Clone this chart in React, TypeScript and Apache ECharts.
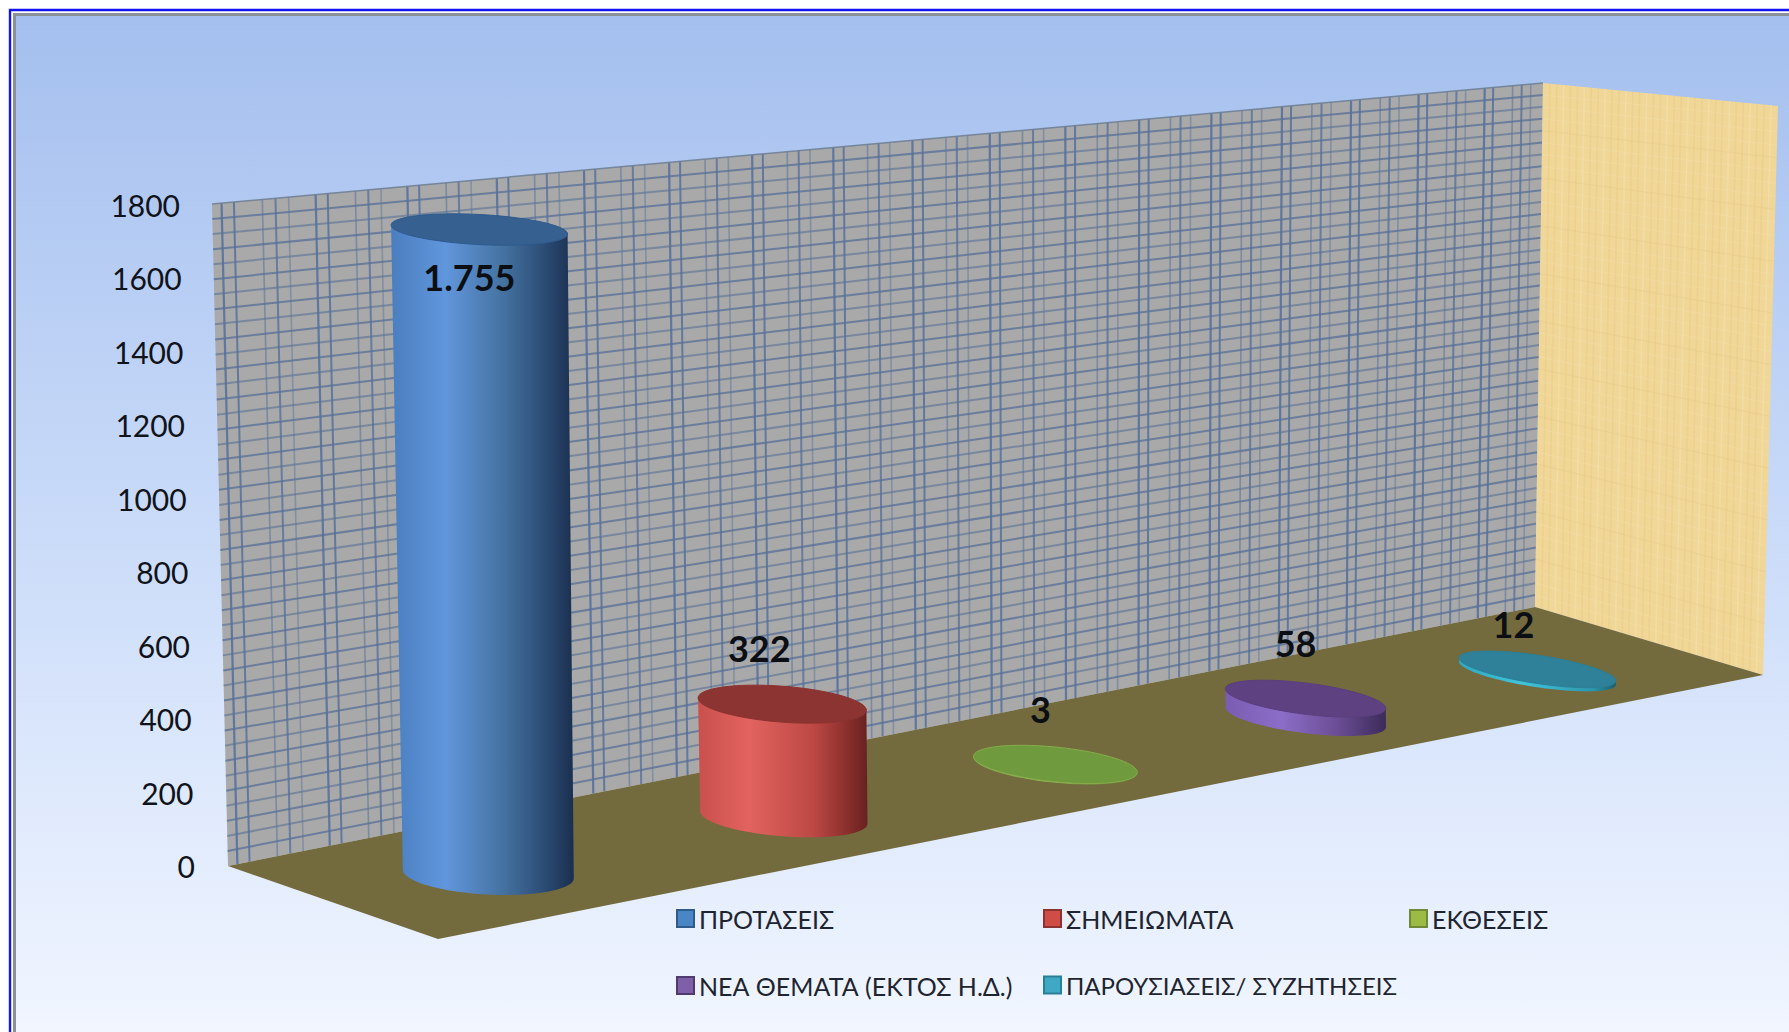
import React, { useEffect, useRef } from "react";
import * as echarts from "echarts";

const categories = ["ΠΡΟΤΑΣΕΙΣ", "ΣΗΜΕΙΩΜΑΤΑ", "ΕΚΘΕΣΕΙΣ", "ΝΕΑ ΘΕΜΑΤΑ (ΕΚΤΟΣ Η.Δ.)", "ΠΑΡΟΥΣΙΑΣΕΙΣ/ ΣΥΖΗΤΗΣΕΙΣ"];
const values = [1755, 322, 3, 58, 12];
const yTicks = [0, 200, 400, 600, 800, 1000, 1200, 1400, 1600, 1800];

const FONT = "Lato, 'Noto Sans', sans-serif";
const W = 1789, H = 1032;
const GRID = { left: 205, top: 205, width: 1300, height: 661 };
const GAMMA = 0.0441;

const palette = [
  { top: "#35608f", rim: "#2d5a8e", icon: "#4a86c5", border: "#2f5b8c", side: [[0, "#4a7ebf"], [0.3, "#6096dc"], [0.62, "#44719f"], [0.85, "#2a4a73"], [1, "#1b2f4e"]] },
  { top: "#8b3431", rim: "#8c3330", icon: "#cf4d47", border: "#8c3330", side: [[0, "#c9504d"], [0.3, "#e2635f"], [0.68, "#bd4844"], [0.88, "#8a2f2c"], [1, "#662220"]] },
  { top: "#6f9a3e", rim: "#86ac4c", icon: "#9bbb45", border: "#6f8a36", side: [[0, "#7fa647"], [0.4, "#93bb52"], [1, "#5f8030"]] },
  { top: "#5d4180", rim: "#5a3f7d", icon: "#7f5fa8", border: "#503a70", side: [[0, "#7a5db2"], [0.35, "#8c6dc8"], [0.7, "#6a4d94"], [1, "#3d2b5a"]] },
  { top: "#2f8199", rim: "#2c7f95", icon: "#3fa9c4", border: "#2a7f97", side: [[0, "#2fa8c2"], [0.4, "#40c4dc"], [0.85, "#2c97ad"], [1, "#1c5f70"]] },
];
const labelNudge = [
  { dx: -10, dy: 47 }, { dx: -23, dy: -56 }, { dx: -15, dy: -55 }, { dx: -10, dy: -56 }, { dx: -24, dy: -45 },
];

const gradient = (stops: number[][]) =>
  new echarts.graphic.LinearGradient(0, 0, 1, 0, stops.map((s) => ({ offset: s[0], color: s[1] as any })));

function ellipsePoint(cx: number, cy: number, rx: number, ry: number, tilt: number, th: number) {
  const ex = rx * Math.cos(th), ey = ry * Math.sin(th);
  return [cx + ex * Math.cos(tilt) - ey * Math.sin(tilt), cy + ex * Math.sin(tilt) + ey * Math.cos(tilt)];
}

function cylinder(colorIdx: number) {
  return (_params: any, api: any) => {
    const idx = api.value(0);
    const val = api.value(1);
    const o = api.coord([idx, 0]);
    const t = api.coord([idx, val]);
    const band = api.size([1, 0])[0];
    const i = (o[0] - GRID.left) / band - 0.5;
    const depth = 1 + GAMMA * i;
    const bx = (488.3 + 330.1 * i) / depth;
    const by = 874 - (bx - 488.3) * 0.1915;
    const h = (o[1] - t[1]) / depth;
    const f = h / 648;
    const rx = 85.6 / (1 + 0.02 * i);
    const tilt = ((3 + 1.4 * i) * Math.PI) / 180;
    const tx = bx - 9 * f, ty = by - h;
    const rxT = rx + 2.8 * f, ryB = 20.5 - 1.6 * i, ryT = ryB - 5.5 * f;
    const body: number[][] = [];
    const N = 48;
    for (let k = 0; k <= N; k++) body.push(ellipsePoint(bx, by, rx, ryB, tilt, Math.PI - (Math.PI * k) / N));
    body.push(ellipsePoint(tx, ty, rxT, ryT, tilt, 0));
    body.push(ellipsePoint(tx, ty, rxT, ryT, tilt, Math.PI));
    const topPts: number[][] = [];
    for (let k = 0; k < 72; k++) topPts.push(ellipsePoint(tx, ty, rxT, ryT, tilt, (2 * Math.PI * k) / 72));
    const c = palette[colorIdx];
    const n = labelNudge[colorIdx];
    const text = String(val).replace(/\B(?=(\d{3})+(?!\d))/g, ".");
    return {
      type: "group",
      children: [
        { type: "polygon", shape: { points: body }, style: { fill: gradient(c.side as any) } },
        { type: "polygon", shape: { points: topPts }, style: { fill: c.top, stroke: c.rim, lineWidth: 1 } },
        {
          type: "text",
          x: tx + n.dx,
          y: ty + n.dy,
          style: { text, fill: "#0b0f14", fontFamily: FONT, fontSize: 36, fontWeight: "bold", align: "center", verticalAlign: "middle" },
        },
      ],
    };
  };
}

const lerp = (a: number[], b: number[], u: number) => [a[0] + (b[0] - a[0]) * u, a[1] + (b[1] - a[1]) * u];

function wallElements() {
  const TL = [212, 204], TR = [1543, 83], BR = [1535, 607], BL = [228, 866];
  const FR = [1763, 675], FL = [438, 939], RT = [1778, 106];
  const els: any[] = [
    { type: "polygon", shape: { points: [TL, TR, BR, BL] }, style: { fill: "#a8a9a8" } },
  ];
  const line = (a: number[], b: number[], stroke: string, lineWidth: number, opacity: number) => ({
    type: "line",
    shape: { x1: a[0], y1: a[1], x2: b[0], y2: b[1] },
    style: { stroke, lineWidth, opacity },
  });
  const rows = 44;
  for (let r = 1; r < rows; r++) {
    const v = r / rows;
    els.push(line(lerp(TL, BL, v), lerp(TR, BR, v), "#5a7298", 2, r % 2 ? 0.8 : 0.62));
  }
  const periods = 17;
  const offs = [[0, 0.9, 2.2], [0.13, 0.85, 2], [0.43, 0.55, 1.6], [0.57, 0.8, 2], [0.71, 0.45, 1.6]];
  const k = 1 + GAMMA * 5;
  for (let p = 0; p < periods; p++) {
    for (const o of offs) {
      const s = (p + o[0] + 0.1) / periods;
      if (s >= 1) continue;
      const u = (s * k) / (1 + (k - 1) * s);
      if (u >= 1) continue;
      els.push(line(lerp(TL, TR, u), lerp(BL, BR, u), "#56719c", o[2], o[1]));
    }
  }
  els.push(line(TL, TR, "#6f8095", 1.5, 0.9));
  els.push({ type: "polygon", shape: { points: [TR, RT, FR, BR] }, style: { fill: "#f0d798" } });
  for (let q = 1; q < 34; q++) {
    const u = q / 34;
    els.push(line(lerp(TR, RT, u), lerp(BR, FR, u), q % 3 ? "#e6c47c" : "#f8e8bc", 1.5, 0.35));
  }
  for (let q = 1; q < 44; q++) {
    const u = q / 44;
    els.push(line(lerp(TR, BR, u), lerp(RT, FR, u), q % 4 ? "#f6e2ae" : "#e3c47f", 1.2, 0.3));
  }
  els.push({ type: "polygon", shape: { points: [BL, FL, FR, BR] }, style: { fill: "#736a3e" } });
  return els;
}

const frame = [
  { type: "rect", shape: { x: 0, y: 0, width: W, height: H }, style: { fill: "#ffffff" } },
  { type: "rect", shape: { x: 10, y: 10, width: W + 30, height: H + 30 }, style: { fill: "#ffffff", stroke: "#1414f0", lineWidth: 2.4 } },
  {
    type: "rect",
    shape: { x: 14.5, y: 14.5, width: W + 30, height: H + 30 },
    style: {
      fill: new echarts.graphic.LinearGradient(0, 0, 0, 1, [
        { offset: 0, color: "#a4bfee" },
        { offset: 0.5, color: "#cbdcf9" },
        { offset: 0.96, color: "#f1f6ff" },
        { offset: 1, color: "#f4f8ff" },
      ]),
      stroke: "#8b9198",
      lineWidth: 3,
    },
  },
];

const legendSlots = [
  { left: 676, top: 906 },
  { left: 1043, top: 906 },
  { left: 1409, top: 906 },
  { left: 676, top: 973 },
  { left: 1043, top: 973 },
];

export default function App() {
  const ref = useRef<HTMLDivElement>(null);
  useEffect(() => {
    const chart = echarts.init(ref.current!, null, { renderer: "svg" });
    const rich: any = {};
    yTicks.forEach((v) => {
      rich["t" + v] = { fontSize: 30, fontFamily: FONT, color: "#10131a", padding: [0, (15 * v) / 1800, 0, 0] };
    });
    chart.setOption({
      animation: false,
      backgroundColor: "#ffffff",
      graphic: { elements: [...frame, ...wallElements()] },
      grid: { ...GRID, containLabel: false },
      xAxis: { type: "category", data: categories, show: false },
      yAxis: {
        type: "value",
        min: 0,
        max: 1800,
        interval: 200,
        z: 5,
        axisLine: { show: false },
        axisTick: { show: false },
        splitLine: { show: false },
        axisLabel: { margin: 10, formatter: (v: number) => `{t${v}|${v}}`, rich },
      },
      legend: categories.map((name, i) => ({
        data: [name],
        left: legendSlots[i].left,
        top: legendSlots[i].top,
        padding: 0,
        icon: "rect",
        itemWidth: 17,
        itemHeight: 17,
        selectedMode: false,
        itemStyle: { borderColor: palette[i].border, borderWidth: 2 },
        textStyle: { fontFamily: FONT, fontSize: i === 4 ? 24 : 25, color: "#1e2530" },
      })),
      series: categories.map((name, i) => ({
        type: "custom",
        name,
        renderItem: cylinder(i),
        itemStyle: { color: palette[i].icon },
        encode: { x: 0, y: 1 },
        data: [[name, values[i]]],
      })),
    });
    return () => chart.dispose();
  }, []);
  return <div ref={ref} style={{ position: "absolute", left: 0, top: 0, width: W, height: H }} />;
}
